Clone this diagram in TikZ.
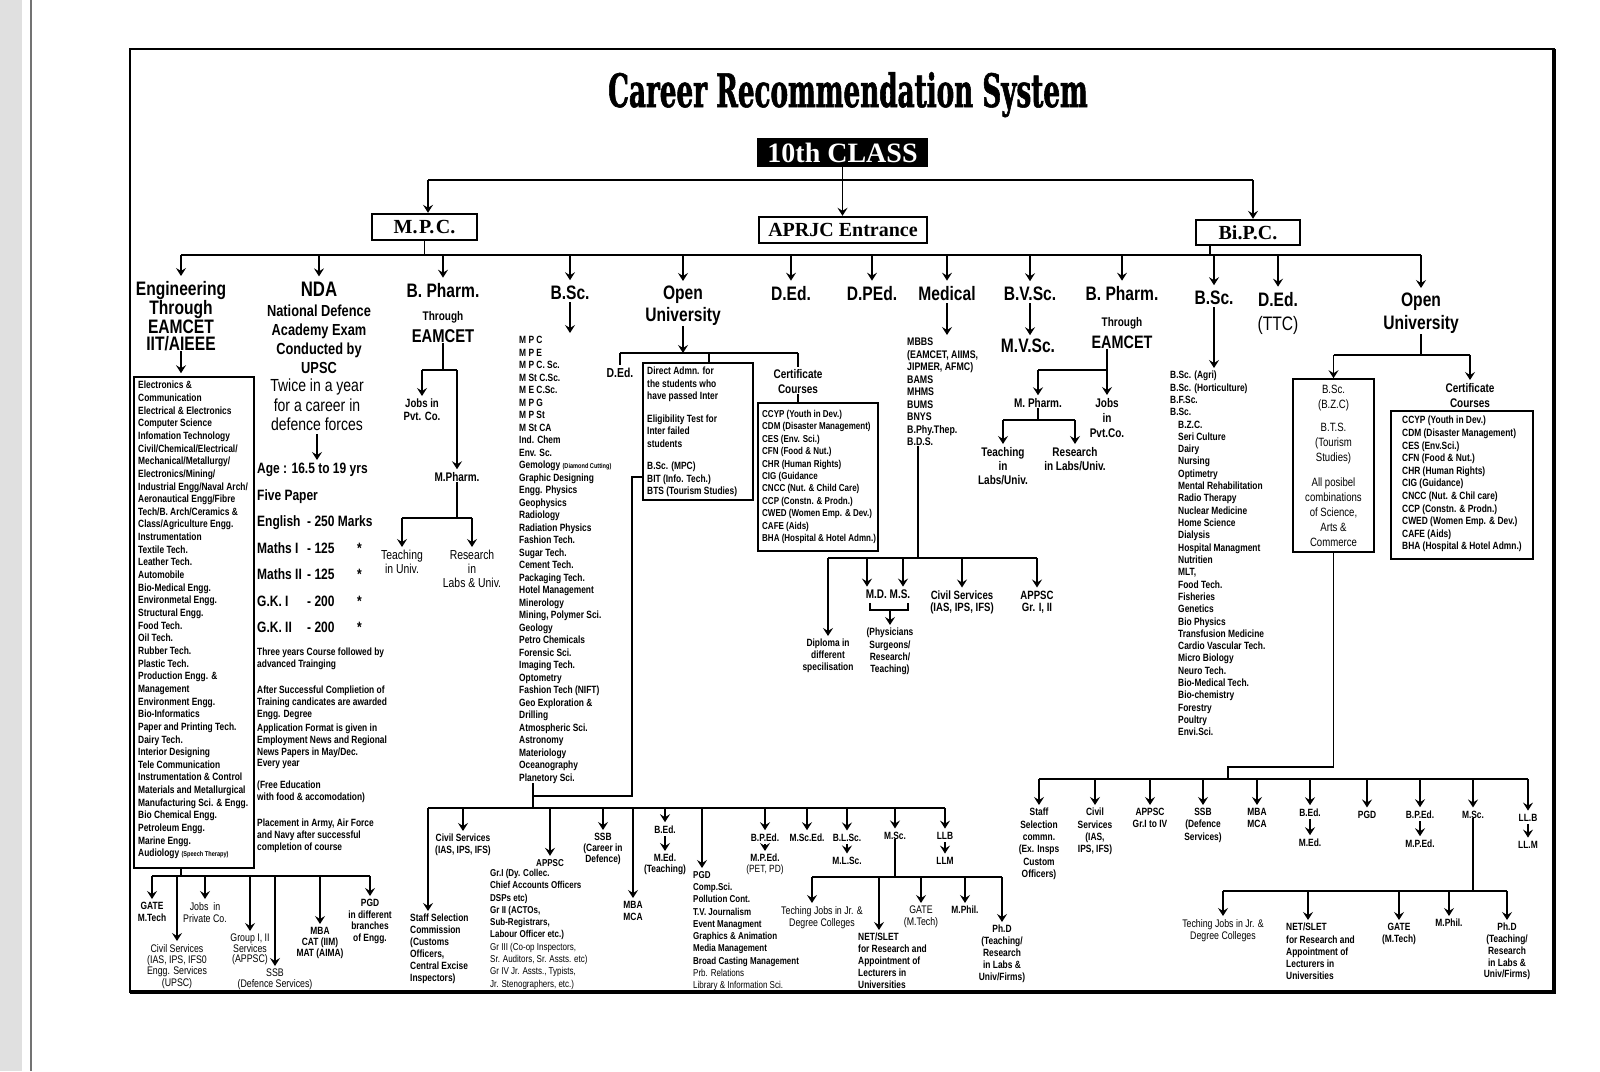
\documentclass[tikz,border=0pt]{standalone}
\usepackage{fontspec}
\setmainfont{Liberation Sans}[FakeStretch=0.8]
\newfontfamily\boxfont{Liberation Serif}
\newfontfamily\titlefont{DejaVu Serif}[FakeStretch=0.57,FakeBold=1.2]
\usetikzlibrary{arrows.meta}
\newcommand\myfs[2]{\fontsize{#1}{#2}\selectfont}
\newcommand\myind{\hspace*{8pt}}
\newcommand\agerow[3]{\makebox[50pt][l]{#1}\makebox[50pt][l]{#2}#3}
\begin{document}
\begin{tikzpicture}[x=1pt,y=-1pt,
  ln/.style={line width=1.3pt},
  arr/.style={ln,-{Stealth[length=8pt,width=10pt,inset=3pt]},shorten >=3pt},
  arrg/.style={arr,shorten >=5pt},
  arrn/.style={arr,shorten <=3pt},
  arr0/.style={ln,-{Stealth[length=8pt,width=10pt,inset=3pt]}},
  big/.style={font=\bfseries\myfs{19.5}{22},inner sep=0pt,align=center},
  lst/.style={inner sep=0pt,anchor=north west,align=left},
  lab/.style={inner sep=0pt,anchor=north,align=center},
  sbase/.style={inner sep=0pt,anchor=base,font=\bfseries\myfs{10.5}{12}},
  hbox/.style={draw,line width=2.4pt,font=\boxfont\bfseries\myfs{20}{20},minimum width=105,minimum height=26,inner sep=0pt},
  frm/.style={draw,line width=1.6pt,inner sep=0pt},
]
\useasboundingbox (0,0) rectangle (1600,1071);
\fill[white] (0,0) rectangle (1600,1071);
\fill[black!12] (0,0) rectangle (22,1071);
\draw[black!55,line width=2pt] (31,0) -- (31,1071);
\draw[line width=2.5pt] (130,49) rectangle (1554,992);
\draw[line width=4pt] (1554,49) -- (1554,992) -- (130,992);

\node[font=\titlefont\bfseries\myfs{46}{46},inner sep=0pt,anchor=base] (title) at (848,107) {Career Recommendation System};

% ---------- level 1
\node[fill=black,text=white,font=\boxfont\bfseries\myfs{28}{28},minimum width=171,minimum height=29,inner sep=0pt] (tenth) at (842.5,152.5) {10th CLASS};
\node[hbox] (mpc) at (424.5,227) {M.\kern1.5pt P.\kern1.5pt C.};
\node[hbox,minimum width=168] (aprjc) at (843,230) {APRJC Entrance};
\node[hbox,minimum width=104,minimum height=25] (bipc) at (1248,232.5) {Bi.P.C.};
\coordinate (tbus) at (0,180);
\coordinate (mpcx) at (428,0);
\coordinate (bipcin) at (1253,0);
\draw[ln] (mpcx |- tbus) -- (bipcin |- tbus);
\draw[arr0] (tenth.south) -- (tenth.south |- aprjc.north);
\draw[arr0] (mpcx |- tbus) -- (mpcx |- mpc.north);
\draw[arr0] (bipcin |- tbus) -- (bipcin |- bipc.north);

\coordinate (mbus) at (0,255);
\draw[ln] (mpc.south) -- (mpc.south |- mbus);
\coordinate (bipcx) at (1210,0);
\draw[ln] (bipc.south -| bipcx) -- (bipcx |- mbus);

% ---------- level 3 headings
\node[big,anchor=north,font=\bfseries\myfs{19.5}{17.5}] (eng) at (181,281) {Engineering\\Through\\EAMCET\\IIT/AIEEE};
\node[big,anchor=base,font=\bfseries\myfs{21}{21}] (nda) at (319,296) {NDA};
\node[big,anchor=base] (bph1) at (443,297) {B. Pharm.};
\node[big,anchor=base] (bsc1) at (570,299) {B.Sc.};
\node[big,anchor=north] (ou1) at (683,286) {Open\\University};
\node[big,anchor=base] (ded1) at (791,300) {D.Ed.};
\node[big,anchor=base] (dped) at (872,300) {D.PEd.};
\node[big,anchor=base] (med) at (947,300) {Medical};
\node[big,anchor=base] (bvsc) at (1030,300) {B.V.Sc.};
\node[big,anchor=base] (bph2) at (1122,300) {B. Pharm.};
\node[big,anchor=base] (bsc2) at (1214,304) {B.Sc.};
\node[big,anchor=base] (ded3) at (1278,306) {D.Ed.};
\node[anchor=base,inner sep=0pt,font=\myfs{19.5}{19.5}] (ttc) at (1278,330) {(TTC)};
\node[big,anchor=north,font=\bfseries\myfs{19.5}{23}] (ou2) at (1421,293) {Open\\University};
\draw[ln] (eng.north |- mbus) -- (ou2.north |- mbus);
\foreach \n in {eng,nda,bph1,bsc1,ou1,ded1,dped,med,bvsc,bph2,bsc2,ded3,ou2} \draw[arrg] (\n.north |- mbus) -- (\n.north);

% ---------- Engineering
\node[frm,minimum width=120,minimum height=491] (engbox) at (194,622.5) {};
\node[lst,font=\bfseries\myfs{10.5}{12.65}] (englist) at (138,381) {Electronics \&\\Communication\\Electrical \& Electronics\\Computer Science\\Infomation Technology\\Civil/Chemical/Electrical/\\Mechanical/Metallurgy/\\Electronics/Mining/\\Industrial Engg/Naval Arch/\\Aeronautical Engg/Fibre\\Tech/B. Arch/Ceramics \&\\Class/Agriculture Engg.\\Instrumentation\\Textile Tech.\\Leather Tech.\\Automobile\\Bio-Medical Engg.\\Environmetal Engg.\\Structural Engg.\\Food Tech.\\Oil Tech.\\Rubber Tech.\\Plastic Tech.\\Production Engg. \&\\Management\\Environment Engg.\\Bio-Informatics\\Paper and Printing Tech.\\Dairy Tech.\\Interior Designing\\Tele Communication\\Instrumentation \& Control\\Materials and Metallurgical\\Manufacturing Sci. \& Engg.\\Bio Chemical Engg.\\Petroleum Engg.\\Marine Engg.\\Audiology {\myfs{7}{7}(Speech Therapy)}};
\draw[arr] (eng.south) -- (eng.south |- engbox.north);
\coordinate (ebus) at (0,876);
\draw[ln] (engbox.south -| eng.south) -- (eng.south |- ebus);
\node[lab,font=\bfseries\myfs{10.5}{12}] (gate1) at (152,902) {GATE\\M.Tech};
\node[lab,font=\myfs{11}{11.3}] (civ1) at (177,944) {Civil Services\\(IAS, IPS, IFS0\\Engg. Services\\(UPSC)};
\node[lab,font=\myfs{11}{12}] (jobs1) at (205,902) {Jobs~~in\\Private Co.};
\node[lab,font=\myfs{11}{10.5}] (grp1) at (250,934) {Group I, II\\Services\\(APPSC)};
\node[lab,font=\myfs{11}{10.5}] (ssb1) at (275,969) {SSB\\(Defence Services)};
\node[lab,font=\bfseries\myfs{10.5}{11}] (mba1) at (320,927) {MBA\\CAT (IIM)\\MAT (AIMA)};
\node[lab,font=\bfseries\myfs{10.5}{11.7}] (pgd1) at (370,899) {PGD\\in different\\branches\\of Engg.};
\draw[ln] (gate1.north |- ebus) -- (pgd1.north |- ebus);
\foreach \n in {gate1,civ1,jobs1,grp1,ssb1,mba1,pgd1} \draw[arr] (\n.north |- ebus) -- (\n.north);

% ---------- NDA
\node[lab,font=\bfseries\myfs{16}{19}] (ndad) at (319,305) {National Defence\\Academy Exam\\Conducted by\\UPSC};
\node[lab,font=\myfs{17.5}{19.5}] (twice) at (317,379) {Twice in a year\\for a career in\\defence forces};
\node[lst,font=\bfseries\myfs{15}{26.5}] (age) at (257,463) {Age : 16.5 to 19 yrs\\Five Paper\\\makebox[50pt][l]{English}- 250 Marks\\\agerow{Maths I}{- 125}{*}\\\agerow{Maths II}{- 125}{*}\\\agerow{G.K. I}{- 200}{*}\\\agerow{G.K. II}{- 200}{*}};
\draw[arrn] (twice.south) -- (twice.south |- age.north);
\node[lst,font=\bfseries\myfs{10.5}{11.6}] (p1) at (257,648) {Three years Course followed by\\advanced Trainging};
\node[lst,font=\bfseries\myfs{10.5}{11.6}] (p2) at (257,686) {After Successful Complietion of\\Training candicates are awarded\\Engg. Degree};
\node[lst,font=\bfseries\myfs{10.5}{11.6}] (p3) at (257,724) {Application Format is given in\\Employment News and Regional\\News Papers in May/Dec.\\Every year};
\node[lst,font=\bfseries\myfs{10.5}{11.6}] (p4) at (257,781) {(Free Education\\with food \& accomodation)};
\node[lst,font=\bfseries\myfs{10.5}{11.6}] (p5) at (257,819) {Placement in Army, Air Force\\and Navy after successful\\completion of course};

% ---------- B.Pharm (MPC)
\node[anchor=base,inner sep=0pt,font=\bfseries\myfs{12.5}{12.5}] (thr1) at (443,320.5) {Through};
\node[anchor=base,inner sep=0pt,font=\bfseries\myfs{18.5}{18.5}] (eam1) at (443,342.5) {EAMCET};
\node[lab,font=\bfseries\myfs{12}{12.5}] (jobs2) at (422,399) {Jobs in\\Pvt. Co.};
\node[anchor=base,inner sep=0pt,font=\bfseries\myfs{12.5}{12.5}] (mph1) at (457,481.5) {M.Pharm.};
\coordinate (pbus1) at (0,370);
\draw[ln] (eam1.south) -- (eam1.south |- pbus1);
\draw[ln] (jobs2.north |- pbus1) -- (mph1.north |- pbus1);
\draw[arr] (jobs2.north |- pbus1) -- (jobs2.north);
\draw[arr] (mph1.north |- pbus1) -- (mph1.north);
\node[lab,font=\myfs{13}{14}] (teach1) at (402,550) {Teaching\\in Univ.};
\node[lab,font=\myfs{13}{14}] (res1) at (472,550) {Research\\in\\Labs \& Univ.};
\coordinate (pbus2) at (0,518);
\draw[ln] (mph1.south) -- (mph1.south |- pbus2);
\draw[ln] (teach1.north |- pbus2) -- (res1.north |- pbus2);
\draw[arr] (teach1.north |- pbus2) -- (teach1.north);
\draw[arr] (res1.north |- pbus2) -- (res1.north);

% ---------- B.Sc. (MPC)
\node[lst,font=\bfseries\myfs{10.5}{12.5}] (bsclist) at (519,336) {M P C\\M P E\\M P C. Sc.\\M St C.Sc.\\M E C.Sc.\\M P G\\M P St\\M St CA\\Ind. Chem\\Env. Sc.\\Gemology {\myfs{7}{7}(Diamond Cutting)}\\Graphic Designing\\Engg. Physics\\Geophysics\\Radiology\\Radiation Physics\\Fashion Tech.\\Sugar Tech.\\Cement Tech.\\Packaging Tech.\\Hotel Management\\Minerology\\Mining, Polymer Sci.\\Geology\\Petro Chemicals\\Forensic Sci.\\Imaging Tech.\\Optometry\\Fashion Tech (NIFT)\\Geo Exploration \&\\Drilling\\Atmospheric Sci.\\Astronomy\\Materiology\\Oceanography\\Planetory Sci.};
\draw[arrn] (bsc1.south) -- (bsc1.south |- bsclist.north);
\coordinate (bscx) at (533,0);
\coordinate (lbus) at (0,808);
\draw[ln] (bsclist.south -| bscx) -- (bscx |- lbus);

% ---------- Open University (MPC)
\coordinate (obus) at (0,353);
\draw[arr0] (ou1.south) -- (ou1.south |- obus);
\node[anchor=base,inner sep=0pt,font=\bfseries\myfs{13}{13}] (ded2) at (620,377) {D.Ed.};
\node[frm,minimum width=110,minimum height=137] (oubox) at (698,431.5) {};
\node[lst,font=\bfseries\myfs{10.5}{12.5}] (outext) at (647,367) {Direct Admn. for\\the students who\\have passed Inter\\[10pt]Eligibility Test for\\Inter failed\\students\\[10pt]B.Sc. (MPC)\\BIT (Info. Tech.)\\BTS (Tourism Studies)};
\node[lab,font=\bfseries\myfs{12.5}{15}] (cert1) at (798,369) {Certificate\\Courses};
\coordinate (oumid) at (709,0);
\draw[ln] (ded2.north |- obus) -- (cert1.north |- obus);
\draw[ln,shorten >=2pt] (ded2.north |- obus) -- (ded2.north);
\draw[ln] (oumid |- obus) -- (oumid |- oubox.north);
\draw[ln,shorten >=2pt] (cert1.north |- obus) -- (cert1.north);
\node[frm,minimum width=120,minimum height=148] (certbox1) at (818,477) {};
\node[lst,font=\bfseries\myfs{10}{12.4}] (certlist1) at (762,410) {CCYP (Youth in Dev.)\\CDM (Disaster Management)\\CES (Env. Sci.)\\CFN (Food \& Nut.)\\CHR (Human Rights)\\CIG (Guidance\\CNCC (Nut. \& Child Care)\\CCP (Constn. \& Prodn.)\\CWED (Women Emp. \& Dev.)\\CAFE (Aids)\\BHA (Hospital \& Hotel Admn.)};
\draw[ln] (cert1.south) -- (cert1.south |- certbox1.north);
\coordinate (oub) at (0,477);
\coordinate (oujoin) at (632,796);
\draw[ln] (oubox.west |- oub) -| (oujoin) -- (oujoin -| bscx);

% ---------- Medical
\node[lst,font=\bfseries\myfs{11}{12.5}] (medlist) at (907,338) {MBBS\\(EAMCET, AIIMS,\\JIPMER, AFMC)\\BAMS\\MHMS\\BUMS\\BNYS\\B.Phy.Thep.\\B.D.S.};
\draw[arrn] (med.south) -- (med.south |- medlist.north);
\coordinate (medx) at (918,0);
\coordinate (dbus) at (0,558);
\draw[ln] (medlist.south -| medx) -- (medx |- dbus);
\node[lab,font=\bfseries\myfs{10.5}{12}] (dipl) at (828,639) {Diploma in\\different\\specilisation};
\node[anchor=base,inner sep=0pt,font=\bfseries\myfs{12.5}{12.5}] (mdms) at (888,598.5) {M.D. M.S.};
\node[lab,font=\bfseries\myfs{10.5}{12.3}] (phys) at (890,628) {(Physicians\\Surgeons/\\Research/\\Teaching)};
\node[lab,font=\bfseries\myfs{12}{12.5}] (civ2) at (962,590.5) {Civil Services\\(IAS, IPS, IFS)};
\node[lab,font=\bfseries\myfs{12}{12.5}] (appsc1) at (1037,590.5) {APPSC\\Gr. I, II};
\draw[ln] (dipl.north |- dbus) -- (appsc1.north |- dbus);
\draw[arr] (dipl.north |- dbus) -- (dipl.north);
\draw[arr] (civ2.north |- dbus) -- (civ2.north);
\draw[arr] (appsc1.north |- dbus) -- (appsc1.north);
\coordinate (md1) at ([xshift=-21pt]mdms.north);
\coordinate (md2) at ([xshift=15pt]mdms.north);
\draw[arr] (md1 |- dbus) -- (md1);
\draw[arr] (md2 |- dbus) -- (md2);
\coordinate (mdl) at ([xshift=-18pt,yshift=-4pt]mdms.south);
\coordinate (mdr) at ([xshift=20pt,yshift=-4pt]mdms.south);
\coordinate (mdb) at (0,610);
\draw[ln] (mdl) -- (mdl |- mdb) -- (mdr |- mdb) -- (mdr);
\draw[arr] (phys.north |- mdb) -- (phys.north);

% ---------- B.V.Sc.
\node[big,anchor=base] (mvsc) at (1028,352) {M.V.Sc.};
\draw[arrn] (bvsc.south) -- (bvsc.south |- mvsc.north);

% ---------- B.Pharm (BiPC)
\node[anchor=base,inner sep=0pt,font=\bfseries\myfs{12.5}{12.5}] (thr2) at (1122,326.5) {Through};
\node[anchor=base,inner sep=0pt,font=\bfseries\myfs{18}{18}] (eam2) at (1122,348.5) {EAMCET};
\node[lab,font=\bfseries\myfs{12.5}{15}] (jobs3) at (1107,398) {Jobs\\in\\Pvt.Co.};
\node[anchor=base,inner sep=0pt,font=\bfseries\myfs{12.5}{12.5}] (mph2) at (1038,407.5) {M. Pharm.};
\coordinate (pbus3) at (0,370);
\draw[arr] (eam2.south -| jobs3.north) -- (jobs3.north);
\draw[ln] (mph2.north |- pbus3) -- (jobs3.north |- pbus3);
\draw[arr] (mph2.north |- pbus3) -- (mph2.north);
\node[lab,font=\bfseries\myfs{12.5}{14}] (teach2) at (1003,447) {Teaching\\in\\Labs/Univ.};
\node[lab,font=\bfseries\myfs{12.5}{14}] (res2) at (1075,447) {Research\\in Labs/Univ.};
\coordinate (pbus4) at (0,420);
\draw[ln] (mph2.south) -- (mph2.south |- pbus4);
\draw[ln] (teach2.north |- pbus4) -- (res2.north |- pbus4);
\draw[arr] (teach2.north |- pbus4) -- (teach2.north);
\draw[arr] (res2.north |- pbus4) -- (res2.north);

% ---------- B.Sc. (BiPC)
\node[lst,font=\bfseries\myfs{10.5}{12.31}] (bsclist2) at (1170,371) {B.Sc. (Agri)\\B.Sc. (Horticulture)\\B.F.Sc.\\B.Sc.\\\myind B.Z.C.\\\myind Seri Culture\\\myind Dairy\\\myind Nursing\\\myind Optimetry\\\myind Mental Rehabilitation\\\myind Radio Therapy\\\myind Nuclear Medicine\\\myind Home Science\\\myind Dialysis\\\myind Hospital Managment\\\myind Nutritien\\\myind MLT,\\\myind Food Tech.\\\myind Fisheries\\\myind Genetics\\\myind Bio Physics\\\myind Transfusion Medicine\\\myind Cardio Vascular Tech.\\\myind Micro Biology\\\myind Neuro Tech.\\\myind Bio-Medical Tech.\\\myind Bio-chemistry\\\myind Forestry\\\myind Poultry\\\myind Envi.Sci.};
\draw[arrn] (bsc2.south) -- (bsc2.south |- bsclist2.north);

% ---------- Open University (BiPC)
\coordinate (obus2) at (0,355);
\draw[ln] (ou2.south) -- (ou2.south |- obus2);
\node[frm,minimum width=81,minimum height=173,align=center,font=\myfs{12}{15}] (bzcbox) at (1333.5,465.5) {B.Sc.\\(B.Z.C)\\[8pt]B.T.S.\\(Tourism\\Studies)\\[10pt]All posibel\\combinations\\of Science,\\Arts \&\\Commerce};
\node[lab,font=\bfseries\myfs{12.5}{15}] (cert2) at (1470,383) {Certificate\\Courses};
\node[frm,minimum width=142,minimum height=148] (certbox2) at (1462,485) {};
\node[lst,font=\bfseries\myfs{10.5}{12.6}] (certlist2) at (1402,416) {CCYP (Youth in Dev.)\\CDM (Disaster Management)\\CES (Env.Sci.)\\CFN (Food \& Nut.)\\CHR (Human Rights)\\CIG (Guidance)\\CNCC (Nut. \& Chil care)\\CCP (Constn. \& Prodn.)\\CWED (Women Emp. \& Dev.)\\CAFE (Aids)\\BHA (Hospital \& Hotel Admn.)};
\draw[ln] (bzcbox.north |- obus2) -- (cert2.north |- obus2);
\draw[arr0] (bzcbox.north |- obus2) -- (bzcbox.north);
\draw[arr] (cert2.north |- obus2) -- (cert2.north);

% ---------- bottom right (BiPC)
\coordinate (bbus) at (0,779);
\coordinate (bzj) at (0,767);
\coordinate (bzx) at (1228,0);
\draw[ln] (bzcbox.south) -- (bzcbox.south |- bzj) -- (bzx |- bzj) -- (bzx |- bbus);
\node[lab,font=\bfseries\myfs{10.5}{12.3}] (ssc2) at (1039,808) {Staff\\Selection\\commn.\\(Ex. Insps\\Custom\\Officers)};
\node[lab,font=\bfseries\myfs{10.5}{12.3}] (civ3) at (1095,808) {Civil\\Services\\(IAS,\\IPS, IFS)};
\node[lab,font=\bfseries\myfs{10.5}{12.3}] (appsc3) at (1150,808) {APPSC\\Gr.I to IV};
\node[lab,font=\bfseries\myfs{10.5}{12.3}] (ssb3) at (1203,808) {SSB\\(Defence\\Services)};
\node[lab,font=\bfseries\myfs{10.5}{12.3}] (mba3) at (1257,808) {MBA\\MCA};
\node[sbase] (bed3) at (1310,816) {B.Ed.};
\node[sbase] (med3) at (1310,846) {M.Ed.};
\node[sbase] (pgd3) at (1367,818) {PGD};
\node[sbase] (bped3) at (1420,818) {B.P.Ed.};
\node[sbase] (mped3) at (1420,847) {M.P.Ed.};
\node[sbase] (msc3) at (1473,818) {M.Sc.};
\node[sbase] (llb3) at (1528,821) {LL.B};
\node[sbase] (llm3) at (1528,848) {LL.M};
\draw[ln] (ssc2.north |- bbus) -- (llb3.north |- bbus);
\foreach \n in {ssc2,civ3,appsc3,ssb3,mba3,bed3,pgd3,bped3,msc3,llb3} \draw[arr] (\n.north |- bbus) -- (\n.north);
\draw[arrn] (bed3.south) -- (med3.north);
\draw[arrn] (bped3.south) -- (mped3.north);
\draw[arrn] (llb3.south) -- (llm3.north);
\coordinate (bus4) at (0,891);
\draw[ln] (msc3.south) -- (msc3.south |- bus4);
\node[lab,font=\myfs{11}{12.5}] (tj4) at (1223,919) {Teching Jobs in Jr. \&\\Degree Colleges};
\node[lst,font=\bfseries\myfs{10.5}{12.25}] (net4) at (1286,923) {NET/SLET\\for Research and\\Appointment of\\Lecturers in\\Universities};
\coordinate (netx4) at ([xshift=22pt]net4.north west);
\node[lab,font=\bfseries\myfs{10.5}{11.5}] (gate4) at (1399,923) {GATE\\(M.Tech)};
\node[lab,font=\bfseries\myfs{10.5}{12}] (mphil4) at (1449,919) {M.Phil.};
\node[lab,font=\bfseries\myfs{10.5}{11.75}] (phd4) at (1507,923) {Ph.D\\(Teaching/\\Research\\in Labs \&\\Univ/Firms)};
\draw[ln] (tj4.north |- bus4) -- (phd4.north |- bus4);
\draw[arr] (netx4 |- bus4) -- (netx4);
\foreach \n in {tj4,gate4,mphil4,phd4} \draw[arr] (\n.north |- bus4) -- (\n.north);

% ---------- middle bus (MPC B.Sc. / Open Univ.)
\node[lst,font=\bfseries\myfs{10.5}{12}] (ssc1) at (410,914) {Staff Selection\\Commission\\(Customs\\Officers,\\Central Excise\\Inspectors)};
\coordinate (sscx) at ([xshift=18pt]ssc1.north west);
\node[lab,font=\bfseries\myfs{10.5}{11.5}] (civ4) at (463,834) {Civil Services\\(IAS, IPS, IFS)};
\node[anchor=base,inner sep=0pt,font=\bfseries\myfs{10}{10}] (appsc2) at (550,866) {APPSC};
\node[lst,font=\bfseries\myfs{10}{12.3}] (appsl) at (490,869) {Gr.I (Dy. Collec.\\Chief Accounts Officers\\DSPs etc)\\Gr II (ACTOs,\\Sub-Registrars,\\Labour Officer etc.)\\{\mdseries Gr III (Co-op Inspectors,}\\{\mdseries Sr. Auditors, Sr. Assts. etc)}\\{\mdseries Gr IV Jr. Assts., Typists,}\\{\mdseries Jr. Stenographers, etc.)}};
\node[lab,font=\bfseries\myfs{10.5}{11}] (ssb2) at (603,833) {SSB\\(Career in\\Defence)};
\node[lab,font=\bfseries\myfs{10.5}{12}] (mba2) at (633,901) {MBA\\MCA};
\node[sbase] (bed2) at (665,833) {B.Ed.};
\node[lab,font=\bfseries\myfs{10.5}{11}] (med2) at (665,854) {M.Ed.\\(Teaching)};
\node[lst,font=\bfseries\myfs{10}{12.3}] (pgdl) at (693,871) {PGD\\Comp.Sci.\\Pollution Cont.\\T.V. Journalism\\Event Managment\\Graphics \& Animation\\Media Management\\Broad Casting Management\\{\mdseries Prb. Relations}\\{\mdseries Library \& Information Sci.}};
\coordinate (pgdx) at ([xshift=9pt]pgdl.north west);
\node[sbase] (bped2) at (765,841) {B.P.Ed.};
\node[lab,font=\bfseries\myfs{10.5}{11}] (mped2) at (765,854) {M.P.Ed.\\{\mdseries (PET, PD)}};
\node[sbase] (msced) at (807,841) {M.Sc.Ed.};
\node[sbase] (blsc) at (847,841) {B.L.Sc.};
\node[sbase] (mlsc) at (847,864) {M.L.Sc.};
\node[sbase] (msc2) at (895,839) {M.Sc.};
\node[sbase] (llb2) at (945,839) {LLB};
\node[sbase] (llm2) at (945,864) {LLM};
\draw[ln] (sscx |- lbus) -- (llb2.north |- lbus);
\draw[arr] (sscx |- lbus) -- (sscx);
\draw[arr] (pgdx |- lbus) -- (pgdx);
\foreach \n in {civ4,appsc2,ssb2,mba2,bed2,bped2,msced,blsc,msc2,llb2} \draw[arr] (\n.north |- lbus) -- (\n.north);
\draw[arrn] (bed2.south) -- (med2.north);
\draw[arrn] (bped2.south) -- (mped2.north);
\draw[arrn] (blsc.south) -- (mlsc.north);
\draw[arrn] (llb2.south) -- (llm2.north);
\coordinate (bus5) at (0,877);
\draw[ln] (msc2.south) -- (msc2.south |- bus5);
\node[lab,font=\myfs{11}{12}] (tj2) at (822,906) {Teching Jobs in Jr. \&\\Degree Colleges};
\coordinate (tjx) at ([xshift=-10pt]tj2.north);
\node[lst,font=\bfseries\myfs{10.5}{12}] (net2) at (858,933) {NET/SLET\\for Research and\\Appointment of\\Lecturers in\\Universities};
\coordinate (netx2) at ([xshift=21pt]net2.north west);
\node[lab,font=\myfs{11}{12}] (gate2) at (921,906) {GATE\\(M.Tech)};
\node[lab,font=\bfseries\myfs{10.5}{12}] (mphil2) at (965,906) {M.Phil.};
\node[lab,font=\bfseries\myfs{10.5}{12}] (phd2) at (1002,925) {Ph.D\\(Teaching/\\Research\\in Labs \&\\Univ/Firms)};
\draw[ln] (tjx |- bus5) -- (phd2.north |- bus5);
\draw[arr] (tjx |- bus5) -- (tjx);
\draw[arr] (netx2 |- bus5) -- (netx2);
\foreach \n in {gate2,mphil2,phd2} \draw[arr] (\n.north |- bus5) -- (\n.north);
\end{tikzpicture}
\end{document}
